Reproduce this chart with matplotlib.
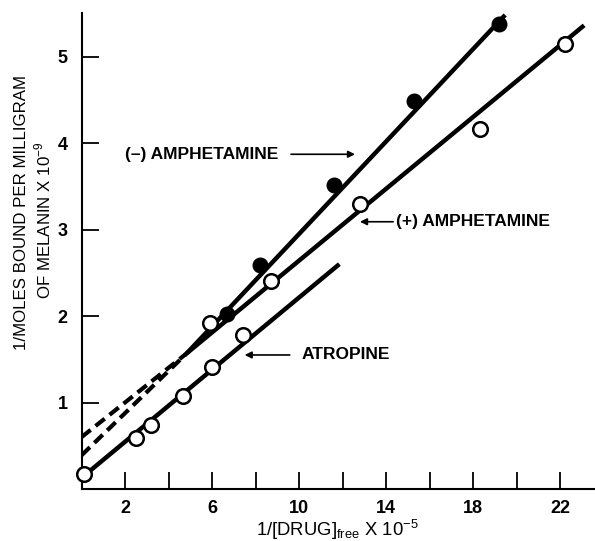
import matplotlib
matplotlib.use("Agg")
import matplotlib.pyplot as plt

plt.rcParams["font.family"] = ["Liberation Sans", "DejaVu Sans"]

# (-) amphetamine, filled circles
minus_x = [6.7, 8.2, 11.6, 15.3, 19.2]
minus_y = [2.02, 2.59, 3.51, 4.48, 5.38]
# (+) amphetamine, open circles
plus_x = [5.9, 8.7, 12.8, 18.3, 22.2]
plus_y = [1.92, 2.40, 3.30, 4.16, 5.15]
# atropine, open circles
atro_x = [0.1, 2.5, 3.2, 4.65, 6.0, 7.4]
atro_y = [0.17, 0.59, 0.74, 1.08, 1.41, 1.78]

# fitted lines (x range, y range), dashed parts are extrapolations
minus_fit_x = [4.84, 19.47]
minus_fit_y = [1.57, 5.48]
minus_dash_x = [0.0, 4.84]
minus_dash_y = [0.39, 1.57]
plus_fit_x = [4.84, 23.1]
plus_fit_y = [1.57, 5.36]
plus_dash_x = [0.0, 4.84]
plus_dash_y = [0.60, 1.57]
atro_fit_x = [0.05, 11.85]
atro_fit_y = [0.14, 2.60]

x_ticks = [2, 4, 6, 8, 10, 12, 14, 16, 18, 20, 22]
x_tick_labels = ["2", "", "6", "", "10", "", "14", "", "18", "", "22"]
y_ticks = [1, 2, 3, 4, 5]

fig = plt.figure(figsize=(5.95, 5.41), dpi=100)
ax = fig.add_axes([0.137, 0.096, 0.863, 0.8795])

lw = 3.2
ax.plot(minus_fit_x, minus_fit_y, color="black", lw=lw, solid_capstyle="butt")
ax.plot(plus_fit_x, plus_fit_y, color="black", lw=lw, solid_capstyle="butt")
ax.plot(atro_fit_x, atro_fit_y, color="black", lw=lw, solid_capstyle="butt")
ax.plot(minus_dash_x, minus_dash_y, color="black", lw=3, ls=(0, (2.8, 1.5)))
ax.plot(plus_dash_x, plus_dash_y, color="black", lw=3, ls=(0, (2.8, 1.5)))

ms = 10.5
ax.plot(minus_x, minus_y, "o", color="black", ms=ms, zorder=5)
ax.plot(plus_x, plus_y, "o", mfc="white", mec="black", mew=1.8, ms=ms, zorder=5)
ax.plot(atro_x, atro_y, "o", mfc="white", mec="black", mew=1.8, ms=ms, zorder=5,
        clip_on=False)

ax.set_xlim(0, 23.6)
ax.set_ylim(0, 5.5)
ax.spines["top"].set_visible(False)
ax.spines["right"].set_visible(False)
ax.spines["left"].set_linewidth(1.5)
ax.spines["bottom"].set_linewidth(1.5)
ax.set_xticks(x_ticks)
ax.set_xticklabels(x_tick_labels)
ax.set_yticks(y_ticks)
ax.tick_params(direction="in", length=12, width=1.3, labelsize=13)
ax.tick_params(axis="x", pad=8)
ax.tick_params(axis="y", pad=10)
for lab in ax.get_xticklabels() + ax.get_yticklabels():
    lab.set_fontweight("bold")

# annotations
arrow = dict(arrowstyle="-|>", color="black", lw=1.2, mutation_scale=10)
ax.annotate("", xy=(12.7, 3.87), xytext=(9.5, 3.87), arrowprops=arrow)
ax.text(2.0, 3.87, "(\u2013) AMPHETAMINE", fontsize=12.5, fontweight="bold",
        va="center", ha="left")
ax.annotate("", xy=(12.67, 3.09), xytext=(14.45, 3.09), arrowprops=arrow)
ax.text(14.45, 3.09, "(+) AMPHETAMINE", fontsize=12.5, fontweight="bold",
        va="center", ha="left")
ax.annotate("", xy=(7.37, 1.55), xytext=(9.7, 1.55), arrowprops=arrow)
ax.text(10.1, 1.55, "ATROPINE", fontsize=12.5, fontweight="bold",
        va="center", ha="left")

fig.text(337 / 595, 1 - 530 / 541,
         r"1/[DRUG]$_{\mathregular{free}}$ X 10$^{\mathregular{-5}}$",
         fontsize=13.3, ha="center", va="center")
fig.text(22 / 595, 1 - 212 / 541, "1/MOLES BOUND PER MILLIGRAM",
         fontsize=12.2, rotation=90, ha="center", va="center")
fig.text(43 / 595, 1 - 220 / 541,
         r"OF MELANIN X 10$^{\mathregular{-9}}$",
         fontsize=12.2, rotation=90, ha="center", va="center")

fig.savefig("out.png", dpi=100)
